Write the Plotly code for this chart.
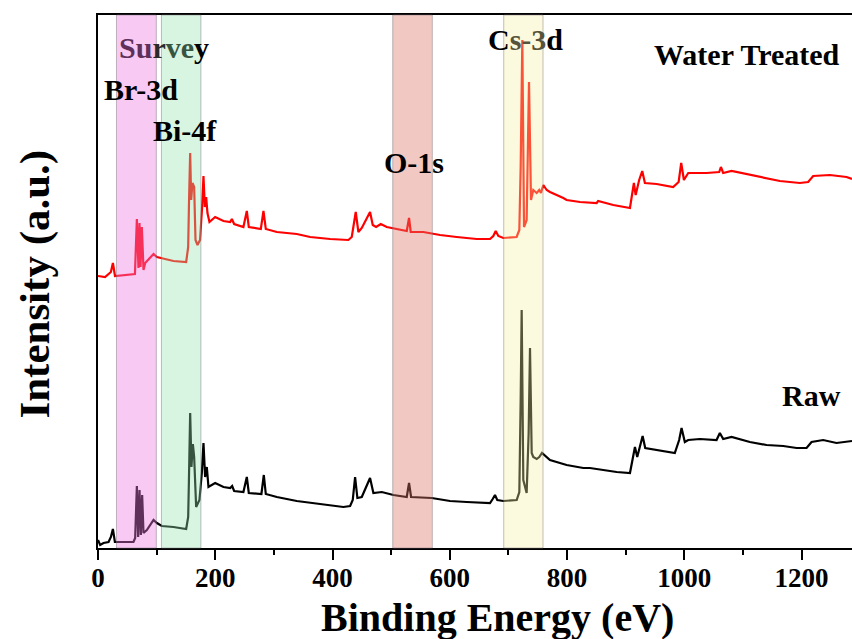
import plotly.graph_objects as go

# ---------------- data ----------------
# Binding energy (eV) and intensity (a.u., offset as plotted) for the two spectra
energy_water = [0, 12, 22, 25.4, 29, 63, 66.3, 69, 70.8, 72.5, 74.8, 77.6, 80.5, 94.7, 100.4, 108.9,
                128.7, 150.4, 153.8, 155.3, 157.2, 158.9, 161.1, 164, 166.3, 169.7, 174, 177.6, 179.9,
                182.2, 184.5, 186.7, 190.1, 199.8, 214, 225.4, 228.3, 232.2, 248, 253.8, 257.2, 277.7,
                282.2, 286.2, 305, 339, 361.8, 395.8, 427, 432.8, 439.6, 444.1, 449.9, 464, 468.6,
                474.3, 482.3, 492.5, 509.5, 526.6, 530.5, 533.4, 554.9, 583.4, 611.8, 645.9, 668.6,
                674.2, 678.3, 682.8, 691.3, 714, 718.6, 720.9, 723.7, 726.6, 731.1, 735.1, 738.5,
                742.4, 748.2, 752.6, 755.5, 759.5, 765.3, 770.9, 793.6, 799.3, 822, 850.5, 853,
                878.8, 907.3, 910, 914, 917, 923, 928.2, 932.8, 952.7, 981, 990.3, 994.7, 999.3,
                1006.7, 1038, 1059.5, 1062.4, 1066.3, 1080.6, 1106.2, 1134.5, 1163, 1197, 1211.2,
                1219.8, 1248.2, 1276.7, 1286]
intensity_water = [272, 271, 276, 285, 272, 274, 329, 280, 325, 281, 321, 278, 285, 294, 291, 290,
                   287, 286, 301, 348, 395, 348, 365, 361, 308, 303, 308, 341, 372,
                   341, 351, 335, 326, 331, 327, 326, 329, 324, 321, 337, 321, 319,
                   337, 319, 316, 314, 311, 309, 308, 311, 336, 316, 320, 336, 323,
                   321, 324, 321, 319, 317, 330, 316, 316, 313, 311, 309, 309,
                   312, 317, 312, 310, 311, 318, 381, 508, 321, 328, 466, 348,
                   358, 355, 358, 355, 363, 358, 356, 350, 348, 346, 345, 347,
                   343, 340, 351, 365, 353, 368, 377, 365, 364, 361, 366, 385, 368,
                   375, 375, 376, 381, 375, 377, 374, 371, 367, 365, 366,
                   372, 373, 371, 369]

energy_raw = [0, 3.7, 9.4, 18, 22, 25.4, 28.8, 32.2, 60.5, 63.4, 66.3, 68.5, 70.8, 73.1, 75.3, 77.6,
              83.3, 94.7, 100.4, 108.9, 128.7, 150.4, 153.8, 155, 157.2, 159.4, 161.8, 164, 167.4,
              173, 177.1, 179.9, 182.7, 185.6, 188.4, 199.8, 214, 225.4, 228.8, 232.2, 248, 253.8,
              257.2, 278.7, 282.8, 286.2, 305, 339, 384.4, 418.5, 430, 434.5, 438.5, 442.4, 449.9,
              464, 469.7, 484, 503.8, 526.6, 530.5, 534, 569.2, 600.4, 628.9, 668.6, 673.2, 677.1,
              681, 691.3, 714.1, 718.6, 720.9, 722.6, 725.4, 731.1, 734.5, 736.8, 739.7, 742.4,
              748.2, 752.6, 757.2, 770.9, 799.3, 827.7, 839, 850.5, 861.8, 884.6, 907.3, 911.9,
              915.8, 919.7, 925.5, 928.9, 933.3, 952.7, 983.8, 991.2, 995.3, 1000.9, 1006.7,
              1026.6, 1055, 1060.6, 1066.3, 1080.6, 1111.8, 1140.3, 1168.7, 1191.5, 1208.5, 1217,
              1236.8, 1259.6, 1286]
intensity_raw = [8, 3, 5, 6, 11, 19, 6, 6, 6, 10, 62, 11, 58, 13, 53, 15,
                 18, 28, 25, 22, 21, 19, 31, 65, 135, 81, 104, 91, 41,
                 48, 75, 105, 71, 81, 61, 65, 61, 60, 62, 57, 56, 71,
                 55, 54, 73, 54, 51, 47, 44, 41, 42, 48, 71, 50, 51,
                 70, 55, 56, 53, 51, 65, 51, 50, 47, 46, 45, 49, 53,
                 48, 47, 48, 56, 148, 238, 68, 55, 115, 200, 95, 91,
                 89, 91, 95, 88, 83, 80, 80, 79, 78, 76, 75, 88,
                 101, 91, 105, 112, 100, 98, 95, 108, 120, 106, 108,
                 109, 108, 115, 109, 111, 106, 103, 102, 100, 100, 106,
                 108, 105, 107]

# highlighted regions (eV)
band_start = [31.5, 108.2, 502.7, 692.0]
band_end = [99.5, 175.5, 570.2, 759.0]
band_fill = ["rgba(235,120,225,0.40)", "rgba(150,228,175,0.37)",
             "rgba(222,118,105,0.40)", "rgba(243,238,161,0.35)"]

# labels
label_text = ["<span style='color:#5e305a'>Su</span><span style='color:#2a2a2a'>r</span>"
              "<span style='color:#375441'>ve</span>y",
              "Br-3d", "Bi-4f", "O-1s",
              "C<span style='color:#55533a'>s-3</span>d",
              "Water Treated", "Raw"]
label_x = [111.8, 73.6, 148.7, 539, 729, 1107, 1217]
label_y = [501, 459, 418, 386, 509, 494, 153]

x_ticks = [0, 200, 400, 600, 800, 1000, 1200]
x_range = [0, 1286]
y_range = [0, 533]

# ---------------- figure ----------------
SERIF = "Liberation Serif, Times New Roman, serif"

fig = go.Figure()
fig.add_trace(go.Scatter(x=energy_raw, y=intensity_raw, mode="lines",
                         line=dict(color="black", width=2.2), name="Raw"))
fig.add_trace(go.Scatter(x=energy_water, y=intensity_water, mode="lines",
                         line=dict(color="#ff0000", width=2.2), name="Water Treated"))

for x0, x1, fc in zip(band_start, band_end, band_fill):
    fig.add_shape(type="rect", xref="x", yref="paper", x0=x0, x1=x1, y0=0, y1=1,
                  fillcolor=fc, line=dict(color="rgba(120,110,120,0.45)", width=1),
                  layer="above")

for t, x, y in zip(label_text, label_x, label_y):
    fig.add_annotation(x=x, y=y, xref="x", yref="y", text=t, showarrow=False,
                       xanchor="center", yanchor="middle",
                       font=dict(family=SERIF, size=30, color="black", weight="bold"))

# axis titles
fig.add_annotation(x=0.53, y=-0.131, xref="paper", yref="paper", text="Binding Energy (eV)",
                   showarrow=False, xanchor="center", yanchor="middle",
                   font=dict(family=SERIF, size=40, color="black", weight="bold"))
fig.add_annotation(x=-0.083, y=0.495, xref="paper", yref="paper", text="Intensity (a.u.)",
                   showarrow=False, xanchor="center", yanchor="middle", textangle=-90,
                   font=dict(family=SERIF, size=43, color="black", weight="bold"))

fig.update_layout(
    width=852, height=639,
    margin=dict(l=98, r=0, t=15, b=91),
    paper_bgcolor="white", plot_bgcolor="white",
    showlegend=False,
    xaxis=dict(range=x_range, tickvals=x_ticks, ticks="outside", ticklen=10, tickwidth=2,
               tickcolor="black", showline=True, linecolor="black", linewidth=2, mirror=True,
               showgrid=False, zeroline=False, ticklabelstandoff=-5,
               minor=dict(dtick=100, tick0=0, ticks="outside", ticklen=5, tickwidth=2,
                          tickcolor="black"),
               tickfont=dict(family=SERIF, size=27, color="black", weight="bold")),
    yaxis=dict(range=y_range, showticklabels=False, ticks="", showline=True, linecolor="black",
               linewidth=2, showgrid=False, zeroline=False),
)

fig.write_html("out.html", config={"displayModeBar": False},
               post_script="document.body.style.margin='0';document.body.style.overflow='hidden';")
